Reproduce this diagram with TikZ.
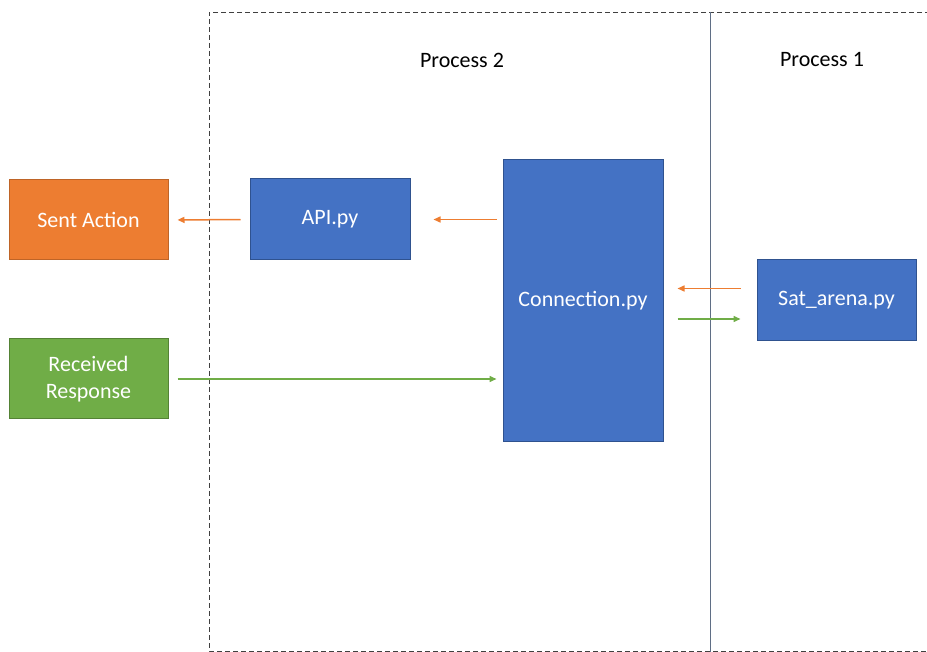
\documentclass[tikz,border=0pt]{standalone}
\usepackage{fontspec}
\setmainfont{Carlito}
\usetikzlibrary{arrows.meta, calc}

\definecolor{boxblue}{HTML}{4472C4}
\definecolor{boxorange}{HTML}{ED7D31}
\definecolor{boxgreen}{HTML}{70AD47}
\definecolor{lineblue}{HTML}{2F528F}
\definecolor{splitgray}{HTML}{5F6E85}

\tikzset{
    module/.style={draw=lineblue, line width=1pt, fill=boxblue, text=white, inner sep=0pt,
        minimum width=160pt, minimum height=81pt, align=center, font=\fontsize{22}{27}\selectfont},
    sentbox/.style={module, fill=boxorange, draw=boxorange!80!black, minimum width=159pt, minimum height=80pt},
    recvbox/.style={module, fill=boxgreen, draw=boxgreen!75!black, minimum width=159pt, minimum height=80pt},
    flow/.style={line width=1.5pt, -{Triangle[length=7pt,width=6pt]}},
    label/.style={font=\fontsize{22}{26}\selectfont}
}

\begin{document}
\begin{tikzpicture}[x=1pt, y=-1pt]
    \useasboundingbox (0,0) rectangle (927,652);
    
    % process borders
    \draw[dashed, dash pattern=on 5pt off 3pt, color=black!75, line width=0.8pt] (930,12) -- (209,12) -- (209,651) -- (930,651);
    \draw[color=splitgray, line width=1pt] (710,12) -- (710,652);
    
    \node[label] (p2) at (462,60) {Process 2};
    \node[label] (p1) at (822,60) {Process 1};
    
    % boxes
    \node[sentbox] (sent) at (88.5,220) {Sent Action};
    \node[recvbox] (recv) at (88.5,379) {Received\\Response};
    \node[module] (api) at (330,219.5) {API.py};
    \node[module, minimum height=281pt] (conn) at (583,300.5) {Connection.py};
    \node[module, minimum width=159pt] (sat) at (836.5,300.5) {Sat\_arena.py};
    
    % arrows
    \draw[flow, color=boxorange, shorten <=9pt, shorten >=9pt] (api.west) -- (sent.east);
    \draw[flow, color=boxorange, shorten <=6pt, shorten >=23pt] (conn.west |- api.west) -- (api.east);
    \draw[flow, color=boxorange, shorten <=16pt, shorten >=14pt] ($(sat.west)+(0,-12)$) -- ($(conn.east)+(0,-12)$);
    \draw[flow, color=boxgreen, shorten <=14pt, shorten >=16pt] ($(conn.east)+(0,18.5)$) -- ($(sat.west)+(0,18.5)$);
    \draw[flow, color=boxgreen, shorten <=9pt, shorten >=6pt] (recv.east) -- (conn.west |- recv.east);
\end{tikzpicture}
\end{document}
